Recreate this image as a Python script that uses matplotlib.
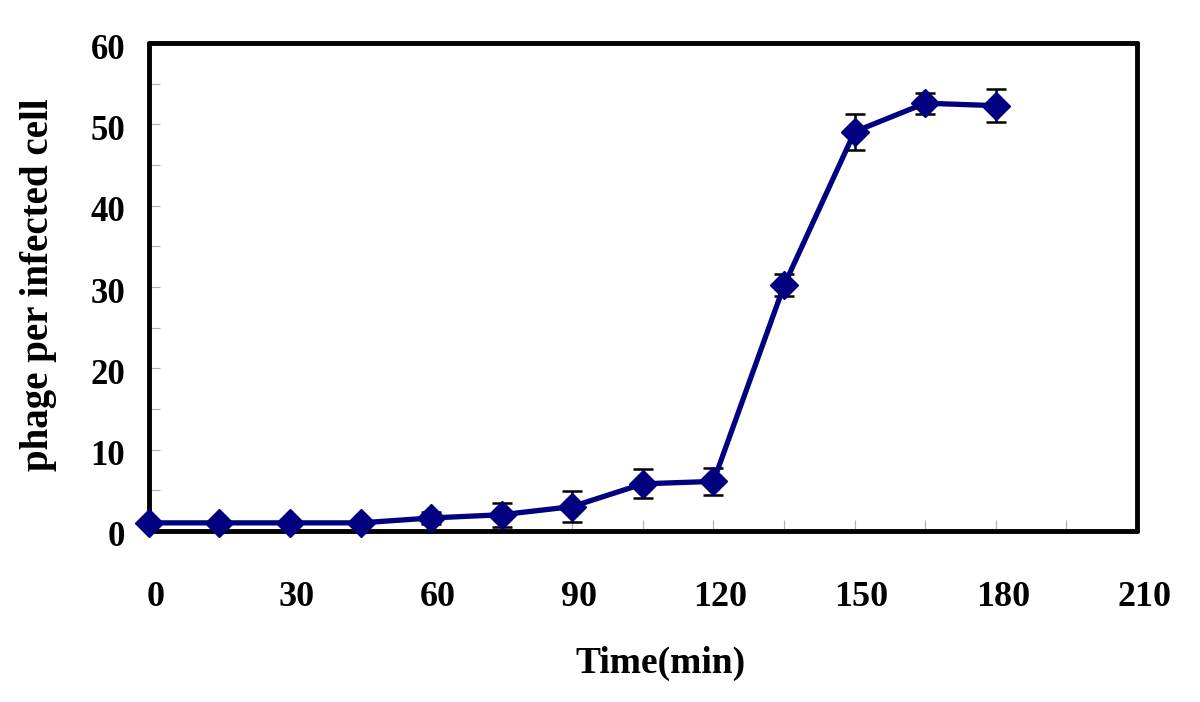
import matplotlib
matplotlib.use("Agg")
import matplotlib.pyplot as plt
import matplotlib.transforms as mtransforms
from matplotlib.ticker import MultipleLocator

time_min = [0, 15, 30, 45, 60, 75, 90, 105, 120, 135, 150, 165, 180]
phage = [1.0, 1.0, 1.0, 1.0, 1.6, 2.0, 3.0, 5.8, 6.1, 30.2, 49.1, 52.6, 52.3]
err = [0.2, 0.3, 0.2, 0.2, 0.7, 1.5, 1.9, 1.8, 1.65, 1.35, 2.2, 1.3, 2.0]
x_ticks = [0, 30, 60, 90, 120, 150, 180, 210]
y_ticks = [0, 10, 20, 30, 40, 50, 60]

plt.rcParams['font.family'] = ['Liberation Serif', 'DejaVu Serif']
plt.rcParams['font.weight'] = 'bold'

fig = plt.figure(figsize=(12, 7.02), dpi=100)
ax = fig.add_axes([0.124, 0.2436, 0.8235, 0.6951])

ax.errorbar(time_min, phage, yerr=err, fmt='none', ecolor='black',
            elinewidth=1.8, capsize=7, capthick=1.8, zorder=2, clip_on=False)
ax.plot(time_min, phage, color='#000080', linewidth=3.8, marker='D',
        markersize=14, markerfacecolor='#000080', markeredgecolor='#000080',
        zorder=3, clip_on=False)

ax.set_xlim(0, 210)
ax.set_ylim(0, 60)
ax.set_xticks(x_ticks)
ax.set_yticks(y_ticks)
ax.xaxis.set_minor_locator(MultipleLocator(15))
ax.yaxis.set_minor_locator(MultipleLocator(5))
ax.tick_params(axis='both', which='both', direction='in', color='#b0b0b0',
               width=0.8, length=8)
ax.tick_params(axis='x', which='major', pad=36, labelsize=26)
ax.tick_params(axis='y', which='major', pad=17, labelsize=25)

for lab in ax.get_xticklabels():
    lab.set_fontweight('bold')
    lab.set_transform(lab.get_transform() +
                      mtransforms.ScaledTranslation(7/100, 0, fig.dpi_scale_trans))
for lab in ax.get_yticklabels():
    lab.set_fontweight('bold')
    lab.set_transform(lab.get_transform() +
                      mtransforms.ScaledTranslation(0, -3/100, fig.dpi_scale_trans))

for sp in ax.spines.values():
    sp.set_linewidth(3.5)
    sp.set_color('black')
    sp.set_capstyle('round')

ax.set_xlabel('Time(min)', fontsize=27, fontweight='bold')
ax.set_ylabel('phage per infected cell', fontsize=28, fontweight='bold')
ax.xaxis.set_label_coords(0.518, -0.235)
ax.yaxis.set_label_coords(-0.093, 0.505)

fig.savefig('out.png', dpi=100)
